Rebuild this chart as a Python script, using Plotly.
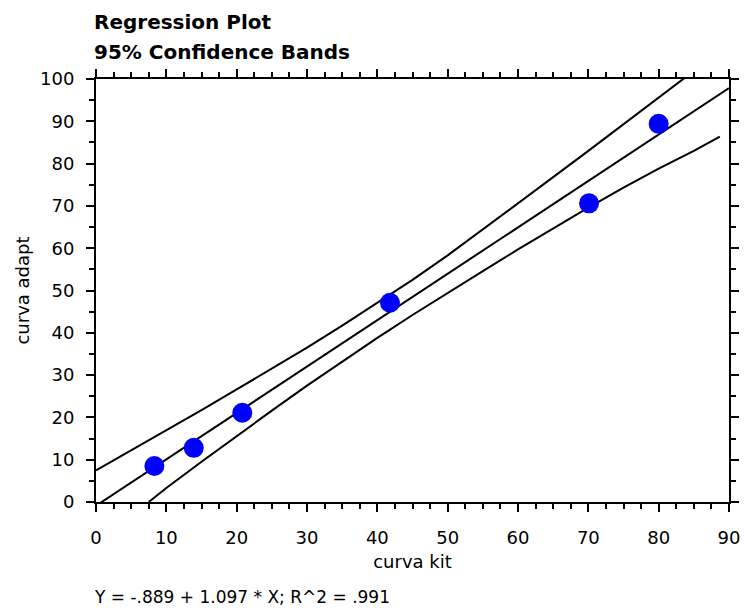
import plotly.graph_objects as go

# Observed data points (curva kit vs curva adapt)
kit = [8.3, 13.9, 20.8, 41.8, 70.1, 80.0]
adapt = [8.5, 12.8, 21.1, 47.1, 70.6, 89.4]

# Regression line (Y = -.889 + 1.097 * X) endpoints
fit_x = [0, 90]
fit_y = [-0.889, 97.84]

# 95% confidence bands
upper_x = [0, 5, 10, 15, 20, 25, 30, 35, 40, 45, 50, 55, 60, 65, 70, 75, 80, 85]
upper_y = [7.5, 12.2, 16.9, 21.7, 26.6, 31.5, 36.5, 41.7, 47.0, 52.5, 58.3, 64.4, 70.6, 76.8, 83.0, 89.3, 95.6, 101.9]
lower_x = [7.5, 10, 15, 20, 25, 30, 35, 40, 45, 50, 55, 60, 65, 70, 75, 80, 85, 88.7]
lower_y = [0.0, 3.3, 9.5, 15.6, 21.6, 27.5, 33.2, 38.8, 44.2, 49.5, 54.6, 59.7, 64.7, 69.6, 74.3, 78.8, 83.0, 86.4]

x_ticks = [0, 10, 20, 30, 40, 50, 60, 70, 80, 90]
y_ticks = [0, 10, 20, 30, 40, 50, 60, 70, 80, 90, 100]

FONT = "DejaVu Sans, Verdana, sans-serif"
line_style = dict(color="black", width=2)

fig = go.Figure()
fig.add_trace(go.Scatter(x=upper_x, y=upper_y, mode="lines", line=line_style, showlegend=False, hoverinfo="skip"))
fig.add_trace(go.Scatter(x=lower_x, y=lower_y, mode="lines", line=line_style, showlegend=False, hoverinfo="skip"))
fig.add_trace(go.Scatter(x=fit_x, y=fit_y, mode="lines", line=line_style, showlegend=False, hoverinfo="skip"))
fig.add_trace(go.Scatter(x=kit, y=adapt, mode="markers",
                         marker=dict(color="#0000FF", size=20, line=dict(width=0)),
                         showlegend=False, cliponaxis=False))

axis_common = dict(
    showline=True, linecolor="black", linewidth=2, mirror="ticks",
    ticks="outside", ticklen=8, tickwidth=2, tickcolor="black",
    showgrid=False, zeroline=False, automargin=False,
    tickfont=dict(family=FONT, size=18, color="black"),
)

fig.update_xaxes(range=[0, 90], tickvals=x_ticks, ticktext=[str(v) for v in x_ticks],
                 minor=dict(dtick=2.5, ticks="outside", ticklen=5, tickwidth=2, tickcolor="black", showgrid=False),
                 ticklabelstandoff=10,
                 title=dict(text="curva kit", standoff=9, font=dict(family=FONT, size=18, color="black")),
                 **axis_common)
fig.update_yaxes(range=[0, 100], tickvals=y_ticks, ticktext=[str(v) for v in y_ticks],
                 minor=dict(dtick=5, ticks="outside", ticklen=5, tickwidth=2, tickcolor="black", showgrid=False),
                 ticklabelstandoff=8,
                 title=dict(text="curva adapt", standoff=6, font=dict(family=FONT, size=18, color="black")),
                 **axis_common)

title_font = dict(family=FONT, size=20, color="black", weight="bold")
fig.add_annotation(text="<b>Regression Plot</b>", xref="paper", yref="paper",
                   x=-0.007, y=1 + (79 - 22) / 423, xanchor="left", yanchor="middle",
                   showarrow=False, font=title_font)
fig.add_annotation(text="<b>95% Confidence Bands</b>", xref="paper", yref="paper",
                   x=-0.007, y=1 + (79 - 52) / 423, xanchor="left", yanchor="middle",
                   showarrow=False, font=title_font)
fig.add_annotation(text="Y = -.889 + 1.097 * X; R^2 = .991", xref="paper", yref="paper",
                   x=-0.007, y=-(597 - 502) / 423, xanchor="left", yanchor="middle",
                   showarrow=False,
                   font=dict(family=FONT, size=17, color="black"))

fig.update_layout(
    width=744, height=611,
    margin=dict(l=96, r=15, t=79, b=109),
    paper_bgcolor="white", plot_bgcolor="white",
    showlegend=False,
)

fig.write_html("out.html", config={"displayModeBar": False},
               post_script="document.body.style.margin='0';document.body.style.overflow='hidden';")
